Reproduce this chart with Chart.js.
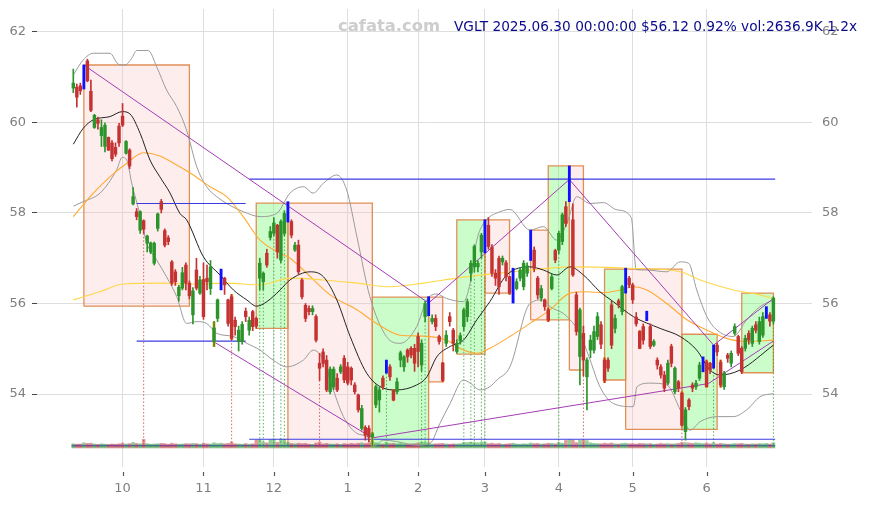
<!DOCTYPE html>
<html><head><meta charset="utf-8">
<script src="https://cdn.jsdelivr.net/npm/chart.js@4.4.1/dist/chart.umd.min.js"></script>
<style>html,body{margin:0;padding:0;background:#fff;}canvas{display:block;}</style>
</head><body>
<canvas id="c" width="871" height="505"></canvas>
<script>
// ---------- DATA ----------
const monthTickIdx = [14, 37, 57, 78, 98, 117, 138, 159, 180];
const monthLabels = ['10', '11', '12', '1', '2', '3', '4', '5', '6'];
const yTicks = [54, 56, 58, 60, 62];

const openP = [
60.76,60.78,60.81,60.74,61.36,60.69,59.89,60.06,59.71,59.47,
59.67,59.55,59.45,59.92,60.14,59.32,59.39,58.20,58.03,57.62,
57.83,57.33,57.14,56.89,57.66,58.25,57.61,57.45,56.92,56.70,
56.17,56.34,56.85,56.45,55.75,56.74,56.23,56.53,56.56,56.33,
55.16,55.67,56.40,56.56,56.08,56.15,55.63,55.16,55.16,55.83,
55.41,55.82,55.67,56.56,56.48,57.11,57.46,57.55,57.73,56.96,
57.55,57.81,57.81,57.18,57.29,56.52,55.96,55.89,55.82,55.71,
54.68,54.93,54.75,54.05,54.16,54.35,54.49,54.79,54.60,54.57,
54.20,53.98,53.24,53.26,53.24,53.05,53.76,53.87,54.35,54.46,
54.60,54.09,54.05,54.75,54.60,54.97,55.01,55.01,55.27,54.64,
55.71,55.73,55.60,55.67,55.27,54.68,55.12,55.71,55.41,54.94,
55.18,55.49,55.71,56.67,56.81,56.81,57.14,57.12,57.73,57.24,
56.67,57.00,56.92,56.90,56.59,56.20,56.33,56.56,56.37,56.67,
56.95,57.18,56.56,56.12,56.08,55.86,56.33,57.17,57.18,57.37,
58.14,58.25,57.85,56.19,54.83,55.34,54.38,54.97,54.97,55.27,
55.53,54.75,54.75,55.97,55.45,56.06,55.82,56.23,56.56,56.41,
55.70,55.38,55.49,55.62,55.49,55.08,54.75,54.60,54.42,54.24,
55.05,54.05,54.27,54.02,53.17,53.87,54.20,54.16,54.35,54.49,
54.71,54.68,54.57,55.08,54.70,54.16,54.86,54.68,55.34,55.27,
55.01,55.01,55.34,55.12,55.53,55.16,55.30,55.67,55.75,55.61];
const highP = [
61.18,60.85,60.87,61.27,61.40,60.94,60.18,60.12,60.06,59.99,
59.68,59.60,59.55,59.98,60.42,59.60,59.42,58.56,58.10,58.05,
57.85,57.51,57.36,57.36,58.00,58.30,57.65,57.50,56.95,56.75,
56.40,56.80,56.90,56.50,56.35,57.00,56.60,56.90,56.85,56.95,
55.60,56.10,56.76,56.58,56.10,56.20,55.70,55.50,55.60,55.90,
55.70,55.85,55.70,57.00,56.70,57.20,57.70,57.90,57.75,57.85,
58.05,58.25,57.85,57.35,57.40,56.55,56.00,55.95,55.95,55.75,
54.90,55.00,54.85,54.60,54.60,54.45,54.65,54.85,54.70,54.60,
54.25,54.00,53.75,53.30,53.30,53.15,54.20,54.15,54.40,54.75,
54.65,54.10,54.35,54.95,54.85,55.00,55.05,55.10,55.35,55.20,
56.05,56.15,55.75,55.75,55.30,54.70,55.40,55.80,55.45,55.20,
55.35,55.90,56.10,56.95,57.30,56.95,57.55,57.85,57.90,57.30,
56.75,57.05,57.05,56.95,56.60,56.78,56.55,56.80,56.95,56.90,
57.62,57.25,56.60,56.40,56.10,55.90,56.65,57.20,57.60,58.00,
58.25,59.04,58.20,56.25,55.90,55.50,54.80,55.30,55.50,55.80,
55.60,54.80,54.80,56.05,55.75,56.10,56.40,56.78,56.60,56.45,
55.80,55.40,55.55,55.83,55.55,55.20,54.80,54.65,54.50,54.75,
55.10,54.60,54.30,54.05,53.70,53.90,54.25,54.30,54.70,54.82,
54.75,54.70,55.08,55.12,54.75,54.50,54.90,54.95,55.55,55.30,
55.05,55.30,55.40,55.50,55.60,55.70,55.80,55.93,55.80,56.15];
const lowP = [
60.66,60.34,60.62,60.74,60.90,60.24,59.87,59.85,59.47,59.35,
59.38,59.15,59.25,59.47,59.91,59.30,58.98,58.18,57.85,57.55,
57.55,57.14,57.10,56.85,57.60,58.00,57.25,57.30,56.40,56.40,
56.05,56.30,56.30,56.10,55.55,56.30,56.20,55.65,56.30,56.20,
55.05,55.60,56.30,56.20,55.50,55.20,55.30,54.95,55.10,55.60,
55.30,55.40,55.45,56.30,56.30,56.80,57.40,57.50,57.00,56.90,
57.50,57.80,57.45,57.15,56.65,56.10,55.60,55.75,55.75,55.15,
54.30,54.60,54.05,54.00,54.10,54.05,54.45,54.25,54.20,54.20,
54.00,53.60,53.20,52.98,52.94,52.85,53.70,53.60,54.10,54.46,
54.30,53.85,54.00,54.60,54.50,54.70,54.80,54.50,54.60,54.50,
55.60,55.73,55.55,55.40,55.10,54.27,55.05,55.50,54.95,54.90,
55.10,55.40,55.60,56.50,56.70,56.70,57.00,57.12,57.20,56.60,
56.40,56.20,56.85,56.50,56.20,56.01,56.30,56.50,56.30,56.60,
56.95,56.70,56.10,56.05,55.85,55.60,56.30,56.90,57.10,57.30,
57.70,58.25,56.60,55.30,54.20,54.40,53.65,54.80,54.90,55.20,
55.00,54.25,54.50,55.00,55.35,55.90,55.75,56.23,56.35,56.00,
55.50,55.00,55.10,55.62,55.00,55.05,54.55,54.35,54.05,54.20,
54.60,54.00,54.05,53.30,52.98,53.65,54.05,54.10,54.30,54.49,
54.15,54.45,54.57,54.85,54.15,54.10,54.70,54.60,55.30,54.85,
54.45,54.95,55.10,55.05,55.35,55.10,55.25,55.67,55.50,55.55];
const closeP = [
60.87,60.56,60.70,61.27,60.92,60.27,60.16,59.98,59.89,59.94,
59.39,59.20,59.30,59.55,59.94,59.58,59.04,58.36,57.92,58.03,
57.64,57.49,57.34,57.33,57.98,58.08,57.29,57.37,56.45,56.48,
56.36,56.68,56.45,56.17,56.28,56.34,56.52,55.71,56.48,56.81,
55.46,56.08,56.70,56.41,55.56,55.23,55.49,55.41,55.54,55.71,
55.63,55.49,55.50,56.89,56.67,56.85,57.59,57.78,57.14,57.81,
57.99,58.25,57.51,57.29,56.70,56.15,55.67,55.82,55.89,55.19,
54.57,54.68,54.09,54.55,54.55,54.09,54.60,54.31,54.24,54.31,
54.05,53.65,53.68,53.09,53.06,53.12,54.16,54.09,54.16,54.75,
54.38,53.87,54.27,54.91,54.82,54.82,54.86,54.68,54.94,55.12,
56.00,56.15,55.67,55.49,55.16,54.30,55.30,55.60,55.12,55.12,
55.29,55.86,56.04,56.89,57.26,56.89,57.51,57.85,57.26,56.67,
56.56,56.37,57.00,56.59,56.23,56.50,56.48,56.74,56.89,56.83,
57.62,56.78,56.19,56.33,55.93,55.63,56.59,56.96,57.55,57.96,
57.77,58.74,56.63,55.38,55.86,54.75,54.75,55.19,55.38,55.71,
55.10,54.30,54.57,55.08,55.67,55.97,56.37,56.78,56.41,56.08,
55.55,55.01,55.19,55.83,55.05,55.16,54.64,54.42,54.13,54.68,
54.68,54.57,54.13,53.31,53.65,53.72,54.13,54.24,54.64,54.82,
54.16,54.53,55.08,54.93,54.20,54.46,54.79,54.90,55.49,54.90,
54.49,55.23,55.19,55.45,55.41,55.60,55.71,55.93,55.61,56.12];
const volumeK = [
2100,1900,2000,2600,2300,2400,2000,1800,2100,1900,
1800,2000,1900,2100,2500,2000,2200,2800,2300,2100,
4300,2200,1900,2000,2100,2300,2200,1800,2400,2100,
1900,2000,2200,2100,2300,2200,1900,2400,2100,2000,
2600,2200,2400,2100,2300,3000,2100,2000,1900,2200,
1900,2100,3900,4200,3000,2600,4100,4300,2800,4400,
4200,2800,2300,2100,2400,2200,2300,1900,1800,2500,
3000,2100,2300,2000,1900,2100,1800,2200,2000,2300,
2100,2400,2600,2300,2500,2900,2600,2200,2000,2800,
2200,2300,2100,2400,2000,1900,2100,2200,2500,2900,
2800,2600,2000,2100,2200,2300,2000,1900,2100,2000,
2200,2800,2700,2900,2800,2600,2900,3000,2200,2400,
2100,2300,1900,2000,2200,2400,2000,1900,2100,2000,
2500,2200,2300,2000,2100,2400,2300,2100,2800,2400,
3800,4100,3900,2700,3800,3900,3700,2600,2300,2200,
2100,2400,2200,2500,2100,2000,2300,2400,2100,2200,
2000,2300,2200,2100,2200,1900,2000,2300,2100,2200,
2000,2100,2300,2800,2700,2500,2300,2600,2400,2200,
2500,2100,2600,2000,2300,2100,1900,2000,2200,2100,
2300,2000,1900,2100,2000,2200,2100,2300,2000,2637];

const blueIdx = [3, 42, 61, 89, 101, 117, 125, 130, 141, 157, 163, 179, 182, 197];
const orangeIdx = [40, 45, 85, 91, 105, 124, 135, 151, 161, 173, 180, 184];
const greenDotIdx = [53, 54, 57, 59, 60, 89, 99, 100, 111, 113, 114, 116, 117, 138, 182, 199];
const redDotIdx = [20, 45, 70, 145, 173];
const dotBottom = 52.83;

// boxes: start idx, end idx, top, bottom, up?
const boxStart = [3, 52, 61, 85, 101, 109, 117, 130, 135, 141, 151, 157, 173, 190];
const boxEnd   = [33, 61, 85, 101, 105, 117, 124, 135, 141, 145, 157, 173, 183, 199];
const boxTop   = [61.27, 58.22, 58.22, 56.14, 56.14, 57.85, 57.85, 57.62, 59.04, 59.04, 56.76, 56.76, 55.32, 56.23];
const boxBot   = [55.94, 55.45, 52.85, 52.84, 54.27, 54.88, 56.23, 55.64, 55.64, 54.53, 54.31, 53.22, 53.22, 54.47];
const boxUp    = [false, true, false, true, false, true, false, false, true, false, true, false, true, true];

const ma20 = [[0,59.52],[2.8,59.87],[5.7,60.06],[10.4,60.13],[13.9,60.24],[16.1,60.19],[19,59.76],[21.8,59.17],[24.6,58.8],[27.5,58.44],[30.3,57.99],[32.2,57.85],[37,57.03],[41.7,56.63],[45.5,56.3],[49.3,56.08],[52.1,55.94],[55,56.04],[58.8,56.3],[61.6,56.52],[67.3,56.7],[71.1,56.59],[74.9,56.08],[78.7,55.27],[83.4,54.46],[88.1,54.13],[91.9,54.09],[97.6,54.2],[100.5,54.38],[103.3,54.82],[107.1,55.05],[110.9,55.19],[114.7,55.64],[118.4,56.04],[123.2,56.63],[129.8,56.81],[133.6,56.74],[137.4,56.63],[141.2,56.81],[145,56.63],[149.7,56.26],[153.5,56.04],[159.2,55.71],[166.8,55.45],[172.5,55.27],[177.2,54.97],[181,54.53],[183.8,54.42],[189.5,54.53],[199,55.08]];
const ma50 = [[0,57.92],[5.7,58.44],[10.4,58.8],[15.2,59.1],[19.9,59.33],[24.6,59.26],[29.4,59.06],[34.1,58.84],[38.9,58.58],[43.6,58.36],[48.3,57.92],[53.1,57.4],[58.8,57.11],[61.6,57.0],[65.4,56.74],[73,56.19],[80.6,55.86],[86.2,55.56],[92.9,55.3],[99.5,55.28],[106.1,55.19],[110.9,54.97],[114.7,54.9],[118.4,55.01],[124.1,55.27],[129.8,55.56],[135.5,55.86],[141.2,56.23],[145.9,56.26],[150.7,56.24],[155.5,56.3],[159.2,56.37],[163,56.3],[168.7,56.0],[174.4,55.64],[180.1,55.41],[185.7,55.23],[191.4,55.16],[199,55.19]];
const ma200 = [[0,56.08],[7.5,56.26],[14.2,56.43],[24.6,56.45],[34.1,56.43],[43.6,56.45],[53.1,56.41],[61.6,56.56],[71.1,56.52],[80.6,56.45],[90,56.37],[99.5,56.45],[108.9,56.56],[118.4,56.65],[129.8,56.74],[141.2,56.81],[158.3,56.78],[172.5,56.7],[178.2,56.52],[187.6,56.3],[195.2,56.19],[199,56.11]];
const bandUpper = [[0,61.05],[2.8,61.38],[5.7,61.53],[10.4,61.53],[12.8,61.29],[14.7,61.27],[16.6,61.42],[18,61.59],[21.3,61.59],[23.7,61.23],[26.5,60.72],[29.4,60.35],[32.2,59.83],[35.1,59.02],[37.9,58.58],[40.8,58.36],[43.6,58.21],[48.3,58.03],[53.1,57.92],[57.8,57.99],[61.6,58.44],[65.4,58.58],[68.2,58.44],[71.1,58.66],[74.9,58.84],[77.7,58.51],[80.6,57.48],[84.3,56.15],[89,55.27],[92.9,55.12],[97.6,55.49],[100.5,56.08],[103.3,56.21],[106.1,56.11],[110.9,56.04],[112.8,56.45],[114.7,57.4],[116.6,57.77],[118.4,57.92],[120.4,58.0],[124.1,58.08],[129.8,57.62],[133.6,57.7],[137.4,57.4],[140.3,57.77],[143.1,58.36],[146.9,58.21],[150.7,58.23],[154.5,58.07],[158.6,57.9],[160,56.75],[163,56.74],[168.7,56.7],[172.5,56.92],[174.9,56.89],[177.2,56.3],[180.1,55.71],[183,55.41],[187.6,55.27],[191.4,55.64],[195.2,55.93],[199,56.08]];
const bandLower = [[0,58.15],[2.8,58.25],[7.6,58.44],[12.3,58.95],[13.9,59.23],[15.2,59.17],[16.6,58.66],[19,57.95],[20.9,57.33],[23.7,56.96],[26.5,56.59],[29.4,56.15],[32.2,55.56],[35.1,55.6],[37.9,55.56],[40.8,55.34],[45.5,55.27],[49.3,55.12],[53.1,54.97],[56.8,54.75],[60.6,54.6],[65.4,54.75],[68.2,54.97],[71.1,54.75],[73.9,54.09],[76.8,53.5],[80.6,53.13],[83.4,53.06],[85.3,52.84],[88.1,52.98],[91.9,52.95],[97.6,52.87],[101.4,52.91],[104.2,53.35],[107.1,53.79],[110.9,54.31],[112.8,54.24],[115.6,54.09],[118.4,54.16],[120.4,54.31],[124.1,54.6],[129.8,56.0],[133.6,56.08],[135.5,55.93],[139.3,55.78],[141.2,55.64],[144,55.34],[146.9,54.75],[149.7,54.16],[153.5,53.79],[159.2,53.72],[160.2,54.16],[163.9,54.24],[168.7,54.2],[172.5,53.65],[175.3,53.2],[178.2,53.39],[183,53.5],[187.6,53.5],[191.4,53.65],[195.2,53.94],[199,54.01]];
const zigHigh = [[3,61.27],[101,56.01],[141,58.74],[182,55.08],[199,56.11]];
const zigLow = [[40,55.15],[85,53.03],[180.5,54.23],[199,55.17]];
const hLines = [
  [[18,58.21],[49,58.21]],
  [[18,55.17],[49,55.17]],
  [[50,58.75],[199.5,58.75]],
  [[50,53.0],[199.5,53.0]]
];
const volLineBlue = [[-0.5,1250],[199.5,1250]];
const volLineGrey = [[-0.5,600],[199.5,600]];
const titleText = 'VGLT 2025.06.30 00:00:00 $56.12 0.92% vol:2636.9K 1.2x';
const watermark = 'cafata.com';

// ---------- BUILD ----------
const idxs = closeP.map((_, i) => i);
const blueSet = new Set(blueIdx);
const UP = '#2b942b', DN = '#c43232';
const normIdx = idxs.filter(i => !blueSet.has(i));
const colOf = i => closeP[i] >= openP[i] ? UP : DN;
const pts = arr => arr.map(p => ({x: p[0], y: p[1]}));

function line(data, color, width, order, extra) {
  return Object.assign({type: 'line', data, borderColor: color, borderWidth: width,
    pointRadius: 0, fill: false, order, yAxisID: 'y', tension: 0}, extra || {});
}

const datasets = [];
boxStart.forEach((s, k) => {
  const e = boxEnd[k], t = boxTop[k], b = boxBot[k];
  datasets.push(line([{x: s, y: t}, {x: e, y: t}], 'rgba(0,0,0,0)', 0, 40,
    {fill: {value: b}, backgroundColor: boxUp[k] ? 'rgba(110,250,110,0.36)' : 'rgba(250,190,190,0.28)'}));
  datasets.push(line([{x: s, y: b}, {x: s, y: t}, {x: e, y: t}, {x: e, y: b}, {x: s, y: b}],
    'rgba(222,138,78,0.95)', 1.3, 39));
});
datasets.push(line(pts(volLineGrey), 'rgba(140,140,140,0.9)', 1, 29, {yAxisID: 'yv'}));
datasets.push(line(pts(volLineBlue), 'rgba(60,60,230,0.9)', 1.3, 28, {yAxisID: 'yv'}));
datasets.push({type: 'bar', yAxisID: 'yv', order: 27, grouped: false, barThickness: 2.8,
  data: idxs.map(i => ({x: i, y: volumeK[i]})),
  backgroundColor: idxs.map(i => closeP[i] >= openP[i] ? 'rgba(40,160,40,0.5)' : 'rgba(200,50,50,0.5)')});
greenDotIdx.forEach(i => datasets.push(line([{x: i, y: lowP[i]}, {x: i, y: dotBottom}], 'rgba(40,150,40,0.75)', 1, 25, {borderDash: [1.5, 2]})));
redDotIdx.forEach(i => datasets.push(line([{x: i, y: lowP[i]}, {x: i, y: dotBottom}], 'rgba(200,50,50,0.75)', 1, 25, {borderDash: [1.5, 2]})));
datasets.push(line(pts(bandUpper), '#9a9a9a', 1, 12, {cubicInterpolationMode: 'monotone'}));
datasets.push(line(pts(bandLower), '#9a9a9a', 1, 12, {cubicInterpolationMode: 'monotone'}));
datasets.push(line(pts(ma200), '#ffd84a', 1.1, 11, {cubicInterpolationMode: 'monotone'}));
datasets.push(line(pts(ma50), '#ffab33', 1.1, 11, {cubicInterpolationMode: 'monotone'}));
datasets.push(line(pts(ma20), '#222222', 1, 10, {cubicInterpolationMode: 'monotone'}));
hLines.forEach(h => datasets.push(line(pts(h), 'rgba(50,50,225,0.95)', 1.2, 9)));
datasets.push(line(pts(zigHigh), '#a43cb4', 1, 8));
datasets.push(line(pts(zigLow), '#a43cb4', 1, 8));
datasets.push({type: 'bar', order: 4, grouped: false, barThickness: 2.2,
  data: orangeIdx.map(i => ({x: i, y: [lowP[i], highP[i]]})), backgroundColor: '#ffa51f'});
datasets.push({type: 'bar', order: 3, grouped: false, barThickness: 1,
  data: normIdx.map(i => ({x: i, y: [lowP[i], highP[i]]})), backgroundColor: normIdx.map(colOf)});
datasets.push({type: 'bar', order: 2, grouped: false, barThickness: 2.8, minBarLength: 1.2,
  data: normIdx.map(i => ({x: i, y: [openP[i], closeP[i]]})), backgroundColor: normIdx.map(colOf)});
datasets.push({type: 'bar', order: 1, grouped: false, barThickness: 2.2,
  data: blueIdx.map(i => ({x: i, y: [lowP[i], highP[i]]})), backgroundColor: '#1010ff'});

const FONT = 'DejaVu Sans';
const decor = {
  id: 'decor',
  afterDraw(chart) {
    const ctx = chart.ctx, xs = chart.scales.x, area = chart.chartArea;
    ctx.save();
    ctx.strokeStyle = '#555'; ctx.lineWidth = 1.2;
    monthTickIdx.forEach(v => {
      const px = Math.round(xs.getPixelForValue(v)) + 0.5;
      ctx.beginPath(); ctx.moveTo(px, area.bottom + 5); ctx.lineTo(px, area.bottom + 9); ctx.stroke();
    });
    ctx.textBaseline = 'alphabetic'; ctx.textAlign = 'left';
    ctx.font = 'bold 16.4px "' + FONT + '"'; ctx.fillStyle = '#cdcdcd';
    ctx.fillText(watermark, 338, 31);
    ctx.font = '13.7px "' + FONT + '"'; ctx.fillStyle = '#0a0a8c';
    ctx.fillText(titleText, 454, 31);
    ctx.restore();
  }
};

const noPadV = s => { s.paddingTop = 0; s.paddingBottom = 0; };
const yCommon = {min: 52.387, max: 62.508};
new Chart(document.getElementById('c'), {
  type: 'bar',
  data: {datasets},
  plugins: [decor],
  options: {
    responsive: false, animation: false, devicePixelRatio: 1, events: [],
    layout: {padding: {top: 9, left: 0, right: 0, bottom: 0}},
    plugins: {legend: {display: false}, tooltip: {enabled: false}, title: {display: false}},
    scales: {
      x: {type: 'linear', min: -10.32, max: 209.97, offset: false,
        grid: {color: '#dedede', lineWidth: 1, drawTicks: false, offset: false},
        border: {display: false},
        afterBuildTicks: s => { s.ticks = monthTickIdx.map(v => ({value: v})); },
        afterFit: s => { s.height = 38; s.paddingLeft = 0; s.paddingRight = 0; },
        ticks: {autoSkip: false, maxRotation: 0, padding: 14, color: '#7f7f7f',
          font: {family: FONT, size: 13},
          callback: v => { const k = monthTickIdx.indexOf(v); return k >= 0 ? monthLabels[k] : ''; }}},
      y: Object.assign({position: 'left',
        grid: {color: '#dedede', lineWidth: 1, tickColor: '#444', tickLength: 5},
        border: {display: false},
        afterBuildTicks: s => { s.ticks = yTicks.map(v => ({value: v})); },
        afterFit: s => { s.width = 37; noPadV(s); },
        ticks: {padding: 6, color: '#7f7f7f', font: {family: FONT, size: 13}, callback: v => String(v)}}, yCommon),
      yR: Object.assign({position: 'right',
        grid: {display: false, drawTicks: false, drawOnChartArea: false},
        border: {display: false},
        afterBuildTicks: s => { s.ticks = yTicks.map(v => ({value: v})); },
        afterFit: s => { s.width = 59; noPadV(s); },
        ticks: {padding: 10, color: '#7f7f7f', font: {family: FONT, size: 13}, callback: v => String(v)}}, yCommon),
      yv: {display: false, min: -9500, max: 219500, afterFit: noPadV}
    }
  }
});
</script>
</body></html>
